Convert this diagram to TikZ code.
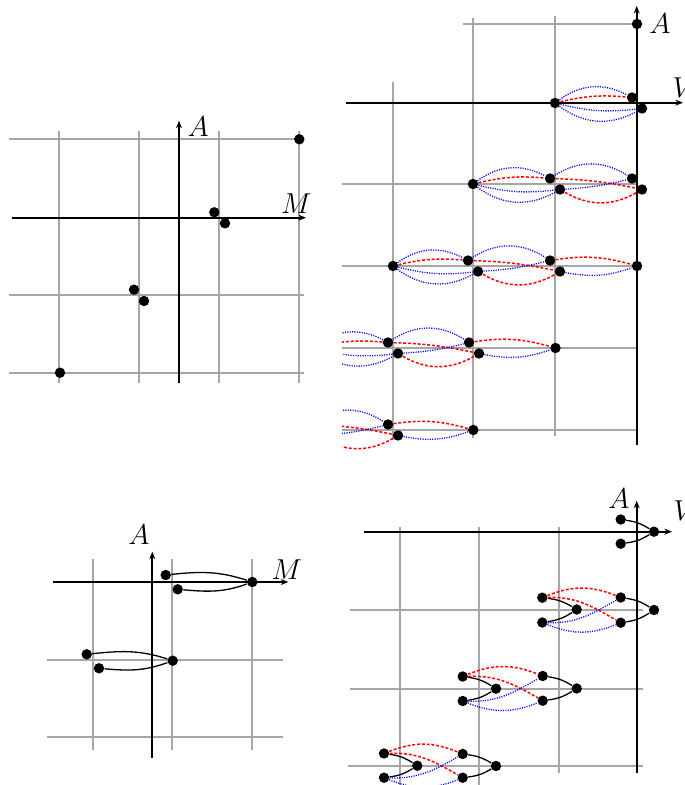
\documentclass[tikz,border=0pt]{standalone}
\usetikzlibrary{arrows.meta}
\begin{document}
\begin{tikzpicture}[x=0.5pt,y=0.5pt,
  grd/.style={draw=black!35,line width=0.9pt},
  ax/.style={draw=black,line width=1pt,-{Stealth[length=3.8pt,width=3pt]}},
  dot/.style={circle,fill=black,inner sep=0pt,minimum size=5.2pt},
  bl/.style={draw=blue,line width=0.65pt,dash pattern=on 0.55pt off 0.65pt},
  rd/.style={draw=red,line width=0.75pt,dash pattern=on 1.5pt off 0.9pt},
  blk/.style={draw=black,line width=0.65pt},
  lbl/.style={font=\Large,inner sep=0pt}]
\useasboundingbox (0,0) rectangle (684,-785);

% ---------------- top-left panel ----------------
\foreach \x in {59.3,138.7,218.7,299.3} \draw[grd] (\x,-131) -- (\x,-383);
\foreach \y in {139.3,295,372.7} \draw[grd] (9,-\y) -- (303.5,-\y);
\draw[ax] (11.7,-217.7) -- (306,-217.7);
\draw[ax] (179,-383) -- (179,-120.7);
\node[lbl] (tlA) at (198.3,-126.7) {$A$};
\node[lbl] (tlM) at (296.2,-203.3) {$M$};
\node[dot] (q1) at (299.3,-139.3) {};
\node[dot] (q2) at (214.3,-212.3) {};
\node[dot] (q3) at (225,-223.3) {};
\node[dot] (q4) at (134,-289.7) {};
\node[dot] (q5) at (144,-301) {};
\node[dot] (q6) at (60,-372.7) {};

% ---------------- top-right panel ----------------
\begin{scope}
\clip (342,0) rectangle (684,-450);
\draw[grd] (393.3,-81.7) -- (393.3,-440);
\draw[grd] (473.3,-18) -- (473.3,-438);
\draw[grd] (555,-16) -- (555,-436);
\draw[grd] (463,-24) -- (637,-24);
\foreach \y in {184,266,348,430} \draw[grd] (340,-\y) -- (637,-\y);
\draw[ax] (346,-102.7) -- (683,-102.7);
\draw[ax] (636.7,-445) -- (636.7,-6);

% row 0
\node[dot] (t0) at (637,-24) {};
% row 1
\node[dot] (t1s) at (555,-103) {};
\node[dot] (t1u) at (632,-97.5) {};
\node[dot] (t1l) at (642,-108.5) {};
% row 2
\node[dot] (t2s) at (473,-184) {};
\node[dot] (t2ua) at (550,-178.5) {};
\node[dot] (t2la) at (560,-189.5) {};
\node[dot] (t2ub) at (632,-178.5) {};
\node[dot] (t2lb) at (642,-189.5) {};
% row 3
\node[dot] (t3s) at (393,-266) {};
\node[dot] (t3ua) at (468,-260.5) {};
\node[dot] (t3la) at (478,-271.5) {};
\node[dot] (t3ub) at (550,-260.5) {};
\node[dot] (t3lb) at (560,-271.5) {};
\node[dot] (t3e) at (637,-266) {};
% row 4
\node[dot] (t4s) at (312,-348) {};
\node[dot] (t4ua) at (388,-342.5) {};
\node[dot] (t4la) at (398,-353.5) {};
\node[dot] (t4ub) at (469,-342.5) {};
\node[dot] (t4lb) at (479,-353.5) {};
\node[dot] (t4e) at (555.5,-348) {};
% row 5
\node[dot] (t5ua) at (307,-424.5) {};
\node[dot] (t5la) at (317,-435.5) {};
\node[dot] (t5ub) at (388,-424.5) {};
\node[dot] (t5lb) at (398,-435.5) {};
\node[dot] (t5e) at (473.3,-430) {};

% source -> first pair
\foreach \s/\u/\l in {t1s/t1u/t1l, t2s/t2ua/t2la, t3s/t3ua/t3la, t4s/t4ua/t4la}{
  \draw[bl] (\s) to[bend left=32] (\u);
  \draw[rd] (\s) to[bend left=9] (\u);
  \draw[bl] (\s) to[bend right=10] (\l);
  \draw[bl] (\s) to[bend right=33] (\l);
}
% pair -> pair
\foreach \ua/\la/\ub/\lb in {t2ua/t2la/t2ub/t2lb, t3ua/t3la/t3ub/t3lb, t4ua/t4la/t4ub/t4lb, t5ua/t5la/t5ub/t5lb}{
  \draw[bl] (\ua) to[bend left=33] (\ub);
  \draw[rd] (\ua) to[bend left=5] (\lb);
  \draw[bl] (\la) to[bend right=5] (\ub);
  \draw[rd] (\la) to[bend right=30] (\lb);
}
% pair -> end
\foreach \u/\l/\e in {t3ub/t3lb/t3e, t4ub/t4lb/t4e, t5ub/t5lb/t5e}{
  \draw[rd] (\u) to[bend left=12] (\e);
  \draw[bl] (\l) to[bend right=15] (\e);
}
\end{scope}
\node[lbl] (trA) at (660,-24) {$A$};
\node[lbl] (trV) at (684,-88) {$V$};

% ---------------- bottom-left panel ----------------
\foreach \x in {93.3,172.3,252.3} \draw[grd] (\x,-559.3) -- (\x,-750);
\foreach \y in {660,736.7} \draw[grd] (47.3,-\y) -- (283.3,-\y);
\draw[ax] (52.7,-582) -- (288.3,-582);
\draw[ax] (152.3,-758.3) -- (152.3,-551.7);
\node[lbl] (blA) at (139,-535) {$A$};
\node[lbl] (blM) at (286.7,-569.7) {$M$};
\node[dot] (p1) at (165.7,-575) {};
\node[dot] (p2) at (177.7,-589.3) {};
\node[dot] (p3) at (252.3,-582) {};
\node[dot] (p4) at (86.7,-654.3) {};
\node[dot] (p5) at (99,-668.3) {};
\node[dot] (p6) at (172.7,-660.7) {};
\draw[blk] (p1) to[out=6,in=162] (p3);
\draw[blk] (p2) to[out=-5,in=-160] (p3);
\draw[blk] (p4) to[out=6,in=162] (p6);
\draw[blk] (p5) to[out=-5,in=-160] (p6);

% ---------------- bottom-right panel ----------------
\draw[grd] (400,-527) -- (400,-785);
\draw[grd] (479.3,-527) -- (479.3,-785);
\draw[grd] (559.3,-527) -- (559.3,-773.3);
\draw[grd] (350,-610) -- (643,-610);
\draw[grd] (350,-688.7) -- (643,-688.7);
\draw[grd] (348,-766) -- (643,-766);
\draw[ax] (364,-531.7) -- (672,-531.7);
\draw[ax] (636.7,-773.3) -- (636.7,-500.7);
\node[lbl] (brA) at (619,-499) {$A$};
\node[lbl] (brV) at (685,-511) {$V$};

\node[dot] (b0u) at (620.7,-519.5) {};
\node[dot] (b0l) at (620.7,-543.7) {};
\node[dot] (b0s) at (654,-531.7) {};

\node[dot] (b1ua) at (542.3,-597.7) {};
\node[dot] (b1la) at (542.3,-622.5) {};
\node[dot] (b1sa) at (576.7,-609.5) {};
\node[dot] (b1ub) at (620.7,-597.5) {};
\node[dot] (b1lb) at (620.7,-622.7) {};
\node[dot] (b1sb) at (654,-610) {};

\node[dot] (b2ua) at (462.7,-676.5) {};
\node[dot] (b2la) at (462.7,-701) {};
\node[dot] (b2sa) at (496,-688.7) {};
\node[dot] (b2ub) at (542.7,-676) {};
\node[dot] (b2lb) at (542.7,-700.7) {};
\node[dot] (b2sb) at (576.7,-688.5) {};

\node[dot] (b3ua) at (384,-753.5) {};
\node[dot] (b3la) at (384,-777.7) {};
\node[dot] (b3sa) at (417.3,-765.7) {};
\node[dot] (b3ub) at (462.7,-754) {};
\node[dot] (b3lb) at (462.7,-777.7) {};
\node[dot] (b3sb) at (496,-766) {};

\foreach \u/\l/\s in {b0u/b0l/b0s, b1ua/b1la/b1sa, b1ub/b1lb/b1sb, b2ua/b2la/b2sa, b2ub/b2lb/b2sb, b3ua/b3la/b3sa, b3ub/b3lb/b3sb}{
  \draw[blk] (\u) to[bend left=12] (\s);
  \draw[blk] (\l) to[bend right=12] (\s);
}
\foreach \ua/\la/\ub/\lb in {b1ua/b1la/b1ub/b1lb, b2ua/b2la/b2ub/b2lb, b3ua/b3la/b3ub/b3lb}{
  \draw[rd] (\ua) to[bend left=22] (\ub);
  \draw[rd] (\ua) to[out=2,in=150] (\lb);
  \draw[bl] (\la) to[out=-2,in=-150] (\ub);
  \draw[bl] (\la) to[bend right=22] (\lb);
}
\end{tikzpicture}
\end{document}
